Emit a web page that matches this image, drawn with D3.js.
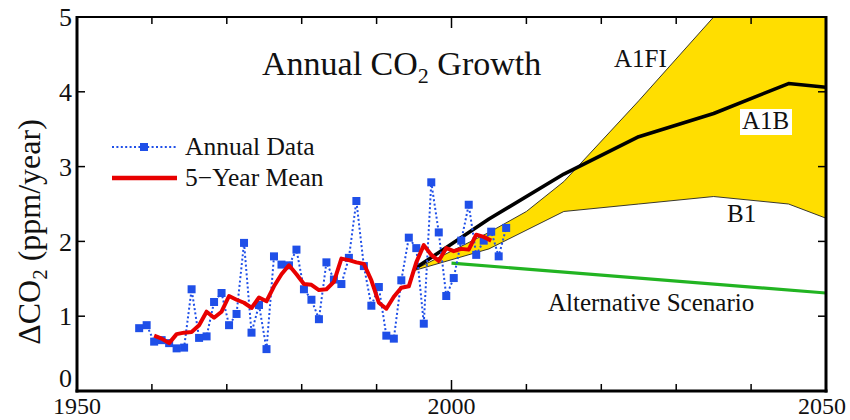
<!DOCTYPE html>
<html>
<head>
<meta charset="utf-8">
<script src="https://cdn.jsdelivr.net/npm/d3@7"></script>
<style>
  body { margin: 0; background: #fff; }
  svg { display: block; }
</style>
</head>
<body>
<svg id="chart" width="850" height="420" font-family="'Liberation Serif', 'Noto Serif', 'Liberation Sans', Arial, sans-serif"></svg>
<script>
// Observed annual CO2 growth (ppm/year)
const years = d3.range(1958, 2008);
const annual = [0.84, 0.88, 0.66, 0.68, 0.64, 0.57, 0.58, 1.36, 0.71, 0.73,
                1.19, 1.31, 0.88, 1.03, 1.98, 0.78, 1.15, 0.56, 1.80, 1.69,
                1.68, 1.89, 1.36, 1.22, 0.96, 1.72, 1.49, 1.43, 1.78, 2.54,
                1.67, 1.14, 1.39, 0.74, 0.70, 1.48, 2.05, 1.91, 0.90, 2.79,
                2.12, 1.27, 1.51, 2.01, 2.49, 1.82, 2.01, 2.13, 1.80, 2.18];

// Centered 5-year running mean
const meanYears = d3.range(1960, 2006);
const fiveYearMean = [0.74, 0.70, 0.64, 0.76, 0.78, 0.79, 0.88, 1.06, 0.98, 1.06,
                      1.27, 1.22, 1.18, 1.11, 1.25, 1.20, 1.40, 1.56, 1.68, 1.56,
                      1.43, 1.42, 1.35, 1.36, 1.46, 1.77, 1.75, 1.72, 1.70, 1.48,
                      1.18, 1.10, 1.26, 1.38, 1.40, 1.72, 1.95, 1.82, 1.74, 1.91,
                      1.87, 1.90, 1.89, 2.09, 2.06, 2.01];

// IPCC emission scenarios
const a1bYears = [1995, 2005, 2015, 2025, 2035, 2045, 2050];
const a1b = [1.63, 2.30, 2.90, 3.40, 3.71, 4.11, 4.06];
const a1fiYears = [1995, 2005, 2010, 2015, 2025, 2035, 2050];
const a1fi = [1.62, 2.12, 2.40, 2.80, 3.88, 5.00, 6.60];
const b1Years = [1995, 2005, 2015, 2025, 2035, 2045, 2050];
const b1 = [1.61, 1.90, 2.40, 2.50, 2.60, 2.50, 2.31];
const altYears = [2000, 2050];
const alternative = [1.71, 1.31];

// Axes
const xTicks = d3.range(1950, 2051, 10);
const xLabels = [1950, 2000, 2050];
const yTicks = [0, 1, 2, 3, 4, 5];

const svg = d3.select("#chart");
const L = 77, R = 826, T = 17, B = 391;
const x = d3.scaleLinear().domain([1950, 2050]).range([L, R]);
const y = d3.scaleLinear().domain([0, 5]).range([B, T]);
const obsShift = 0.3; // observed values sit a little into their year

svg.append("defs").append("clipPath").attr("id", "plot")
  .append("rect").attr("x", L).attr("y", T).attr("width", R - L).attr("height", B - T);

const g = svg.append("g").attr("clip-path", "url(#plot)");

// Scenario envelope between A1FI (upper) and B1 (lower)
const upper = a1fiYears.map((yr, i) => [yr, a1fi[i]]);
const lower = b1Years.map((yr, i) => [yr, b1[i]]);
const pathGen = d3.line().x(d => x(d[0])).y(d => y(d[1]));
g.append("path")
  .attr("d", pathGen(upper.concat(lower.slice().reverse())) + "Z")
  .attr("fill", "#ffde00").attr("stroke", "none");
g.append("path").attr("d", pathGen(upper)).attr("fill", "none").attr("stroke", "#222").attr("stroke-width", 0.9);
g.append("path").attr("d", pathGen(lower)).attr("fill", "none").attr("stroke", "#222").attr("stroke-width", 0.9);

// A1B
g.append("path").attr("d", pathGen(a1bYears.map((yr, i) => [yr, a1b[i]])))
  .attr("fill", "none").attr("stroke", "#000").attr("stroke-width", 3.6).attr("stroke-linejoin", "round");

// Alternative scenario
g.append("path").attr("d", pathGen(altYears.map((yr, i) => [yr, alternative[i]])))
  .attr("fill", "none").attr("stroke", "#22b422").attr("stroke-width", 3.2);

// Annual data
const obs = years.map((yr, i) => [yr + obsShift, annual[i]]);
g.append("path").attr("d", pathGen(obs))
  .attr("fill", "none").attr("stroke", "#1f4fe8").attr("stroke-width", 2)
  .attr("stroke-dasharray", "2,2.4");
g.selectAll("rect.pt").data(obs).join("rect").attr("class", "pt")
  .attr("x", d => x(d[0]) - 4).attr("y", d => y(d[1]) - 4)
  .attr("width", 8).attr("height", 8).attr("fill", "#1f4fe8");

// 5-year mean
g.append("path").attr("d", pathGen(meanYears.map((yr, i) => [yr + obsShift, fiveYearMean[i]])))
  .attr("fill", "none").attr("stroke", "#e80000").attr("stroke-width", 4).attr("stroke-linejoin", "round");

// Frame
svg.append("rect").attr("x", L).attr("y", T).attr("width", R - L).attr("height", B - T)
  .attr("fill", "none").attr("stroke", "#000").attr("stroke-width", 2);
svg.append("line").attr("x1", L).attr("x2", L).attr("y1", T - 1).attr("y2", B + 1.5).attr("stroke", "#000").attr("stroke-width", 3);
svg.append("line").attr("x1", L - 1.5).attr("x2", R + 1.5).attr("y1", B).attr("y2", B).attr("stroke", "#000").attr("stroke-width", 3);
svg.append("line").attr("x1", R).attr("x2", R).attr("y1", T - 1).attr("y2", B + 1.5).attr("stroke", "#000").attr("stroke-width", 3);

// Ticks
const ticks = svg.append("g").attr("stroke", "#000").attr("stroke-width", 1.5);
xTicks.slice(1, -1).forEach(t => {
  const len = t === 2000 ? 11 : 7;
  ticks.append("line").attr("x1", x(t)).attr("x2", x(t)).attr("y1", B).attr("y2", B - len);
  ticks.append("line").attr("x1", x(t)).attr("x2", x(t)).attr("y1", T).attr("y2", T + len);
});
yTicks.slice(1, -1).forEach(t => {
  ticks.append("line").attr("x1", L).attr("x2", L + 8).attr("y1", y(t)).attr("y2", y(t));
  ticks.append("line").attr("x1", R).attr("x2", R - 8).attr("y1", y(t)).attr("y2", y(t));
});

const txt = sel => sel.attr("fill", "#111");

// Tick labels
svg.selectAll("text.yl").data(yTicks).join("text").attr("class", "yl").call(txt)
  .attr("x", L - 5).attr("y", d => y(d) + (d === 0 ? -13 : 0)).attr("dy", "0.35em")
  .attr("text-anchor", "end").attr("font-size", 26).text(d => d);
svg.selectAll("text.xl").data(xLabels).join("text").attr("class", "xl").call(txt)
  .attr("x", d => Math.min(x(d), 822)).attr("y", 414)
  .attr("text-anchor", "middle").attr("font-size", 24).text(d => d);

// Axis title
const yt = svg.append("text").call(txt).attr("transform", "translate(40,232) rotate(-90)")
  .attr("text-anchor", "middle").attr("font-size", 32);
yt.append("tspan").text("ΔCO");
yt.append("tspan").attr("font-size", 21).attr("dy", 7).text("2");
yt.append("tspan").attr("dy", -7).text(" (ppm/year)");

// Title
const title = svg.append("text").call(txt).attr("x", 262).attr("y", 75).attr("font-size", 34);
title.append("tspan").text("Annual CO");
title.append("tspan").attr("font-size", 22).attr("dy", 8).text("2");
title.append("tspan").attr("dy", -8).text(" Growth");

// Scenario labels
svg.append("text").call(txt).attr("x", 614).attr("y", 67).attr("font-size", 25).text("A1FI");
svg.append("rect").attr("x", 740).attr("y", 109).attr("width", 52).attr("height", 26).attr("fill", "#fff");
svg.append("text").call(txt).attr("x", 742).attr("y", 129).attr("font-size", 25).text("A1B");
svg.append("text").call(txt).attr("x", 727).attr("y", 222).attr("font-size", 25).text("B1");
svg.append("text").call(txt).attr("x", 548).attr("y", 311).attr("font-size", 25).text("Alternative Scenario");

// Legend
const lg = svg.append("g");
lg.append("line").attr("x1", 112).attr("x2", 177).attr("y1", 147).attr("y2", 147)
  .attr("stroke", "#1f4fe8").attr("stroke-width", 2).attr("stroke-dasharray", "2,2.4");
lg.append("rect").attr("x", 140).attr("y", 143).attr("width", 8).attr("height", 8).attr("fill", "#1f4fe8");
lg.append("text").call(txt).attr("x", 185).attr("y", 155).attr("font-size", 25.5).text("Annual Data");
lg.append("line").attr("x1", 112).attr("x2", 177).attr("y1", 178).attr("y2", 178)
  .attr("stroke", "#e80000").attr("stroke-width", 4.5);
lg.append("text").call(txt).attr("x", 185).attr("y", 186).attr("font-size", 25.5).text("5−Year Mean");
</script>
</body>
</html>
